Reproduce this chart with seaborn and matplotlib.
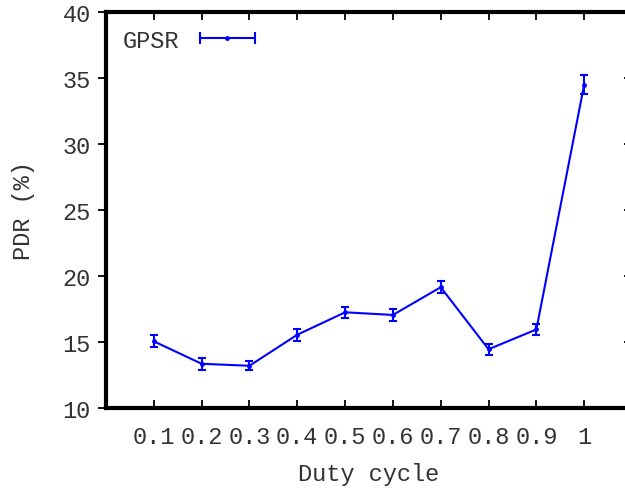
import matplotlib
matplotlib.use("Agg")
import matplotlib.pyplot as plt
import seaborn as sns
import pandas as pd
from matplotlib.lines import Line2D
from matplotlib.legend_handler import HandlerLine2D, HandlerTuple

duty = [0.1, 0.2, 0.3, 0.4, 0.5, 0.6, 0.7, 0.8, 0.9, 1.0]
pdr = [15.05, 13.35, 13.2, 15.55, 17.25, 17.05, 19.15, 14.45, 15.95, 34.5]
err = [0.45, 0.45, 0.35, 0.45, 0.4, 0.45, 0.45, 0.4, 0.45, 0.7]
xtick_vals = [0.1, 0.2, 0.3, 0.4, 0.5, 0.6, 0.7, 0.8, 0.9, 1.0]
xtick_labels = ["0.1", "0.2", "0.3", "0.4", "0.5", "0.6", "0.7", "0.8", "0.9", "1"]
ytick_vals = [10, 15, 20, 25, 30, 35, 40]
series_name = "GPSR"

sns.set_theme(style="ticks")
plt.rcParams["font.family"] = ["Liberation Mono", "DejaVu Sans Mono"]

df = pd.DataFrame({"duty": duty, "pdr": pdr})

fig = plt.figure(figsize=(6.25, 4.89), dpi=100)
ax = fig.add_axes([106 / 625, 1 - 409 / 489, (632 - 106) / 625, (409 - 13) / 489])

blue = "#0000ff"
sns.lineplot(data=df, x="duty", y="pdr", ax=ax, color=blue, linewidth=1.5,
             marker="o", markersize=3.5, markeredgewidth=0, legend=False)
ax.errorbar(duty, pdr, yerr=err, fmt="none", ecolor=blue, elinewidth=1.5,
            capsize=3.2, capthick=1.5)

ax.set_xlim(0, 1.1)
ax.set_ylim(10, 40)
ax.set_xticks(xtick_vals)
ax.set_xticklabels(xtick_labels)
ax.set_yticks(ytick_vals)

for s in ax.spines.values():
    s.set_linewidth(3.0)
    s.set_color("black")
    s.set_visible(True)

ax.set_axisbelow(False)
# top/right inward ticks via matplotlib; bottom/left marks drawn as inward markers
ax.tick_params(axis="both", which="major", direction="in", length=6, width=1.3,
               top=True, right=True, bottom=False, left=False,
               labelbottom=True, labelleft=True,
               labelsize=17, color="black", labelcolor="#333333")
ax.tick_params(axis="x", pad=12)
ax.tick_params(axis="y", pad=11)

ax.plot(xtick_vals, [0] * len(xtick_vals), transform=ax.get_xaxis_transform(),
        linestyle="none", marker=2, markersize=6, markeredgewidth=1.3,
        color="black", clip_on=False, zorder=3)
ax.plot([0] * len(ytick_vals), ytick_vals, transform=ax.get_yaxis_transform(),
        linestyle="none", marker=0, markersize=6, markeredgewidth=1.3,
        color="black", clip_on=False, zorder=3)

ax.set_xlabel("Duty cycle", fontsize=17, color="#333333", labelpad=10)
ax.set_ylabel("PDR (%)", fontsize=17, color="#333333", labelpad=20)

# legend: text first, then horizontal line with caps and centre dot
caps = Line2D([], [], color=blue, linewidth=1.5, marker="|", markersize=9,
              markeredgewidth=1.5)
dot = Line2D([], [], color=blue, linewidth=0, marker="o", markersize=3.5,
             markeredgewidth=0)
ax.legend([(caps, dot)], [series_name], loc="upper left",
          bbox_to_anchor=(0.0, 1.0), frameon=False, markerfirst=False,
          fontsize=17, handlelength=2.9, handletextpad=0.6,
          borderaxespad=0.3, labelcolor="#333333",
          handler_map={caps: HandlerLine2D(numpoints=2),
                       dot: HandlerLine2D(numpoints=1),
                       tuple: HandlerTuple(ndivide=1, pad=0)})

fig.savefig("out.png", dpi=100)
